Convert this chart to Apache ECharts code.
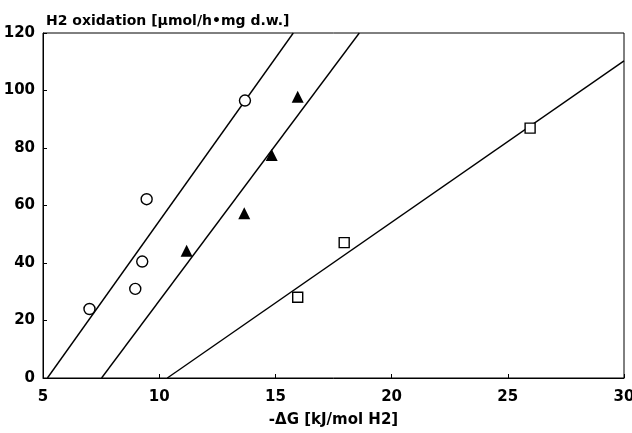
<!DOCTYPE html>
<html>
<head>
<meta charset="utf-8">
<script src="https://cdn.jsdelivr.net/npm/echarts@6/dist/echarts.min.js"></script>
<style>html,body{margin:0;padding:0;background:#fff}#c{width:632px;height:433px}</style>
</head>
<body>
<div id="c"></div>
<script>
// Data
const circleX = [7.0, 8.97, 9.27, 9.46, 13.69];
const circleY = [24.0, 31.0, 40.5, 62.2, 96.5];
const triangleX = [11.18, 13.66, 14.84, 15.96];
const triangleY = [44.3, 57.3, 77.6, 97.8];
const squareX = [15.96, 17.96, 25.96];
const squareY = [28.1, 47.1, 86.9];
// Fitted regression lines (endpoints as drawn)
const lineCircle = [[5.19, 0], [15.77, 120]];
const lineTriangle = [[7.52, 0], [18.61, 120]];
const lineSquare = [[10.35, 0], [30, 110.3]];
const xTicks = [5, 10, 15, 20, 25, 30];
const yTicks = [0, 20, 40, 60, 80, 100, 120];
const titleText = 'H2 oxidation [µmol/h•mg d.w.]';
const xName = '-ΔG [kJ/mol H2]';

const zip = (a, b) => a.map((v, i) => [v, b[i]]);
const FONT = 'DejaVu Sans';
const chart = echarts.init(document.getElementById('c'), null, {renderer: 'canvas'});
const lineStyle = {color: '#000', width: 1.4};
const lineSeries = d => ({type: 'line', data: d, symbol: 'none', lineStyle: lineStyle, silent: true, animation: false});
chart.setOption({
  animation: false,
  backgroundColor: '#fff',
  title: {
    text: titleText, left: 41, top: 9,
    textStyle: {fontFamily: FONT, fontSize: 14, fontWeight: 'bold', color: '#000'}
  },
  grid: {left: 43, right: 8, top: 33, bottom: 55, show: true, borderColor: '#000', borderWidth: 1,
         backgroundColor: 'transparent', outerBoundsMode: 'none', containLabel: false},
  xAxis: {
    type: 'value', min: xTicks[0], max: xTicks[xTicks.length - 1], interval: 5,
    name: xName, nameLocation: 'middle', nameGap: 35,
    nameTextStyle: {fontFamily: FONT, fontSize: 15, fontWeight: 'bold', color: '#000'},
    axisLine: {lineStyle: {color: '#000', width: 1}},
    axisTick: {inside: true, length: 4, lineStyle: {color: '#000'}},
    axisLabel: {fontFamily: FONT, fontSize: 15, fontWeight: 'bold', color: '#000', margin: 12},
    splitLine: {show: false}
  },
  yAxis: {
    type: 'value', min: yTicks[0], max: yTicks[yTicks.length - 1], interval: 20,
    axisLine: {show: true, lineStyle: {color: '#000', width: 1}},
    axisTick: {show: true, inside: true, length: 4, lineStyle: {color: '#000'}},
    axisLabel: {fontFamily: FONT, fontSize: 15, fontWeight: 'bold', color: '#000', margin: 8},
    splitLine: {show: false}
  },
  series: [
    lineSeries(lineCircle),
    lineSeries(lineTriangle),
    lineSeries(lineSquare),
    {type: 'scatter', data: zip(circleX, circleY), symbol: 'circle', symbolSize: 11,
     itemStyle: {color: '#fff', borderColor: '#000', borderWidth: 1.4, opacity: 1}, z: 5},
    {type: 'scatter', data: zip(triangleX, triangleY), symbol: 'triangle', symbolSize: 12,
     itemStyle: {color: '#000', opacity: 1}, z: 5},
    {type: 'scatter', data: zip(squareX, squareY), symbol: 'rect', symbolSize: 10,
     itemStyle: {color: '#fff', borderColor: '#000', borderWidth: 1.4, opacity: 1}, z: 5}
  ]
});
</script>
</body>
</html>
